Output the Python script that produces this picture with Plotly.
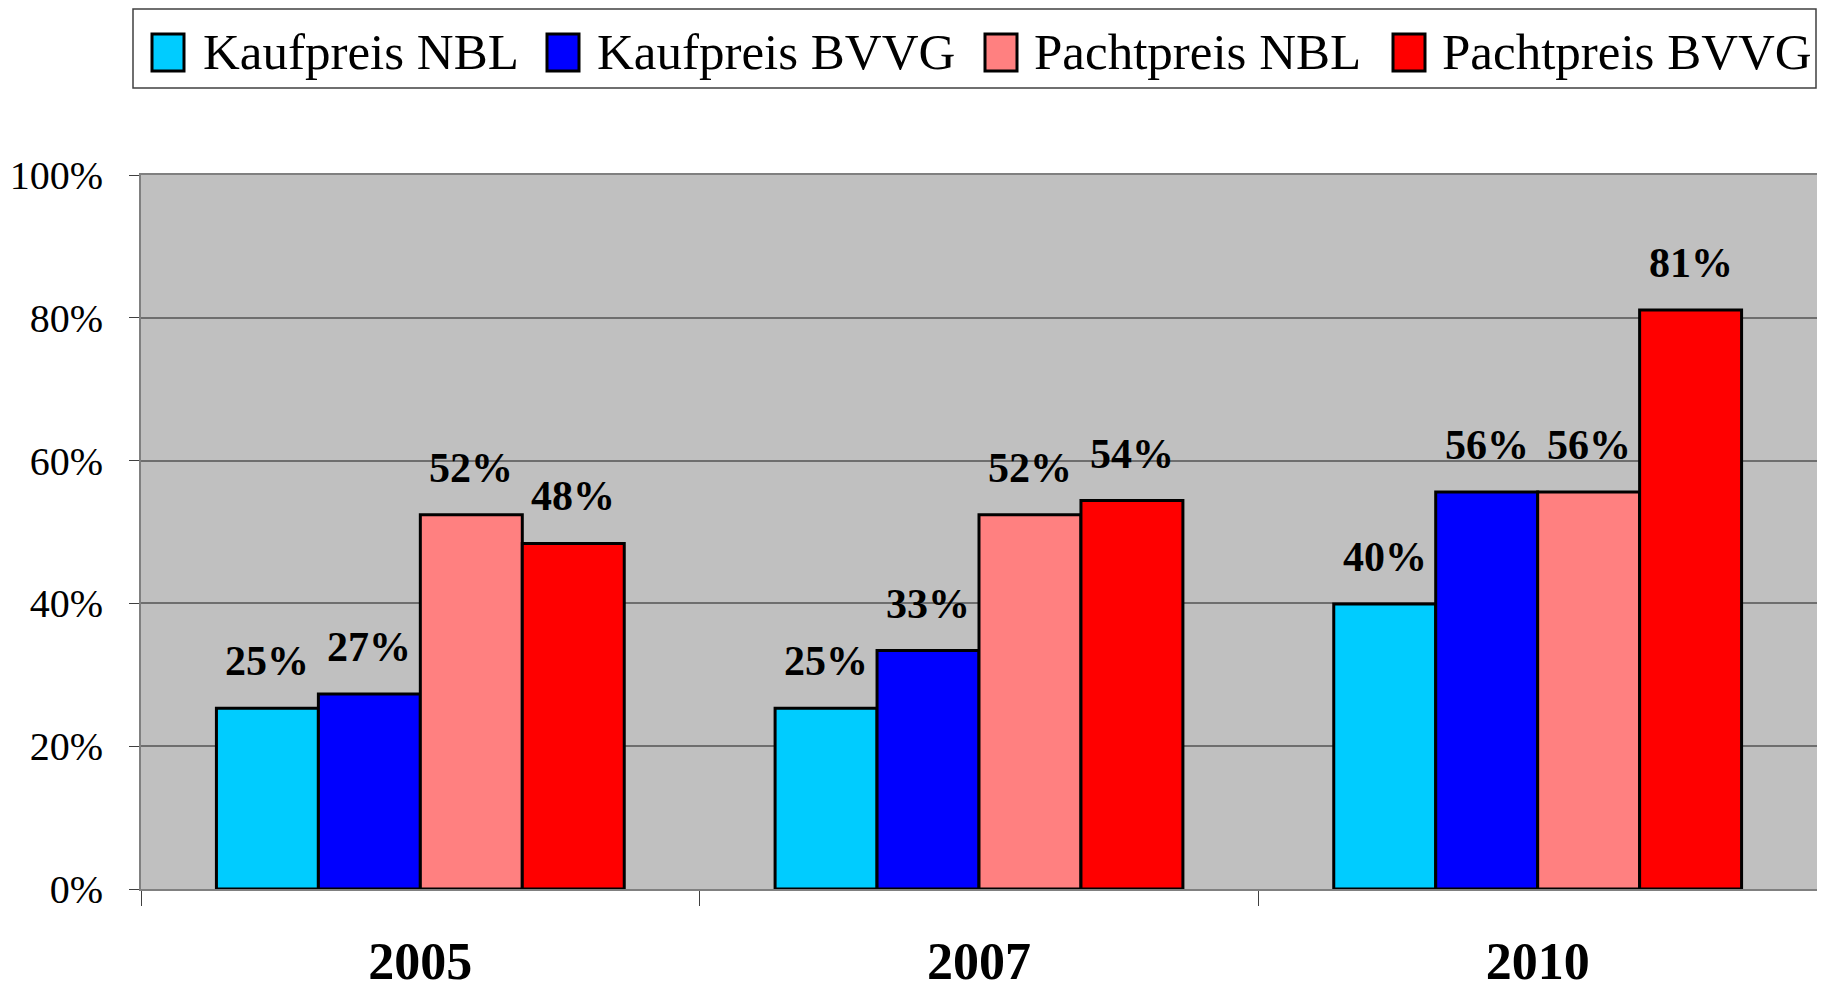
import plotly.graph_objects as go

# Daten (Anteil in %)
years = ["2005", "2007", "2010"]
series_names = ["Kaufpreis NBL", "Kaufpreis BVVG", "Pachtpreis NBL", "Pachtpreis BVVG"]
kauf_nbl = [25.3, 25.3, 39.9]
kauf_bvvg = [27.3, 33.4, 55.6]
pacht_nbl = [52.4, 52.4, 55.6]
pacht_bvvg = [48.4, 54.4, 81.1]
y_ticks = [0, 20, 40, 60, 80, 100]

series_values = [kauf_nbl, kauf_bvvg, pacht_nbl, pacht_bvvg]
colors = ["#00CCFF", "#0000FF", "#FF8080", "#FF0000"]

# Seite hat 8px Rand -> Figur etwas kleiner als das Fenster
OFF = 8
W, H = 1825 - 2 * OFF, 998 - 2 * OFF
PLOT_X0, PLOT_X1, PLOT_Y0, PLOT_Y1 = 141, 1817, 175, 889  # Fensterpixel
L, R = PLOT_X0 - OFF, W - (PLOT_X1 - OFF)
T, B = PLOT_Y0 - OFF, H - (PLOT_Y1 - OFF)
FONT = "Liberation Serif, Times New Roman, serif"
BARGAP = 0.27

plot_w = PLOT_X1 - PLOT_X0
plot_h = PLOT_Y1 - PLOT_Y0
bar_w = plot_w / len(years) * (1 - BARGAP) / len(series_names)


def px_x(px):
    return (px - PLOT_X0) / plot_w


def px_y(py):
    return (PLOT_Y1 - py) / plot_h


fig = go.Figure()
for name, vals, col in zip(series_names, series_values, colors):
    fig.add_trace(go.Bar(
        x=years, y=vals, name=name,
        marker=dict(color=col, line=dict(color="black", width=3)),
        showlegend=False,
    ))

# Wertbeschriftungen über den Balken
annotations = []
n = len(series_names)
for i, vals in enumerate(series_values):
    for j, v in enumerate(vals):
        annotations.append(dict(
            x=j, y=v, xref="x", yref="y",
            text=f"{v:.0f}%", showarrow=False,
            xshift=(i - (n - 1) / 2) * bar_w, yshift=22,
            yanchor="bottom", xanchor="center",
            font=dict(family=FONT, size=42, color="black", weight="bold"),
        ))

# Legende (manuell, große Symbole)
shapes = [dict(
    type="rect", xref="paper", yref="paper",
    x0=px_x(133), x1=px_x(1816), y0=px_y(88), y1=px_y(9),
    line=dict(color="#404040", width=1.5), fillcolor="white",
)]
sq_left = [152, 547, 985, 1393]
txt_left = [201, 595, 1032, 1440]
for name, col, sx, tx in zip(series_names, colors, sq_left, txt_left):
    shapes.append(dict(
        type="rect", xref="paper", yref="paper",
        x0=px_x(sx), x1=px_x(sx + 32), y0=px_y(71), y1=px_y(34),
        line=dict(color="black", width=3), fillcolor=col,
    ))
    annotations.append(dict(
        x=px_x(tx), y=px_y(52), xref="paper", yref="paper",
        text=name, showarrow=False, xanchor="left", yanchor="middle",
        font=dict(family=FONT, size=51, color="black"),
    ))

fig.update_layout(
    width=W, height=H,
    margin=dict(l=L, r=R, t=T, b=B, pad=0),
    paper_bgcolor="white",
    plot_bgcolor="#C0C0C0",
    barmode="group",
    bargap=BARGAP,
    bargroupgap=0,
    showlegend=False,
    annotations=annotations,
    shapes=shapes,
    font=dict(family=FONT, color="black"),
)
fig.update_xaxes(
    type="category",
    range=[-0.5, len(years) - 0.5],
    automargin=False,
    tickson="boundaries",
    ticks="outside", ticklen=15, tickwidth=1, tickcolor="#404040",
    showline=True, linecolor="#808080", linewidth=2, mirror=True,
    showgrid=False,
    ticklabelstandoff=26,
    tickangle=0,
    tickfont=dict(family=FONT, size=52, color="black", weight="bold"),
)
fig.update_yaxes(
    range=[0, 100],
    automargin=False,
    tickvals=y_ticks,
    ticktext=[f"{t}%" for t in y_ticks],
    ticks="outside", ticklen=10, tickwidth=1, tickcolor="#404040",
    showline=True, linecolor="#808080", linewidth=2, mirror=True,
    showgrid=True, gridcolor="#6E6E6E", gridwidth=1.5,
    zeroline=False,
    ticklabelstandoff=18,
    tickfont=dict(family=FONT, size=40, color="black"),
)

fig.write_html("out.html")
